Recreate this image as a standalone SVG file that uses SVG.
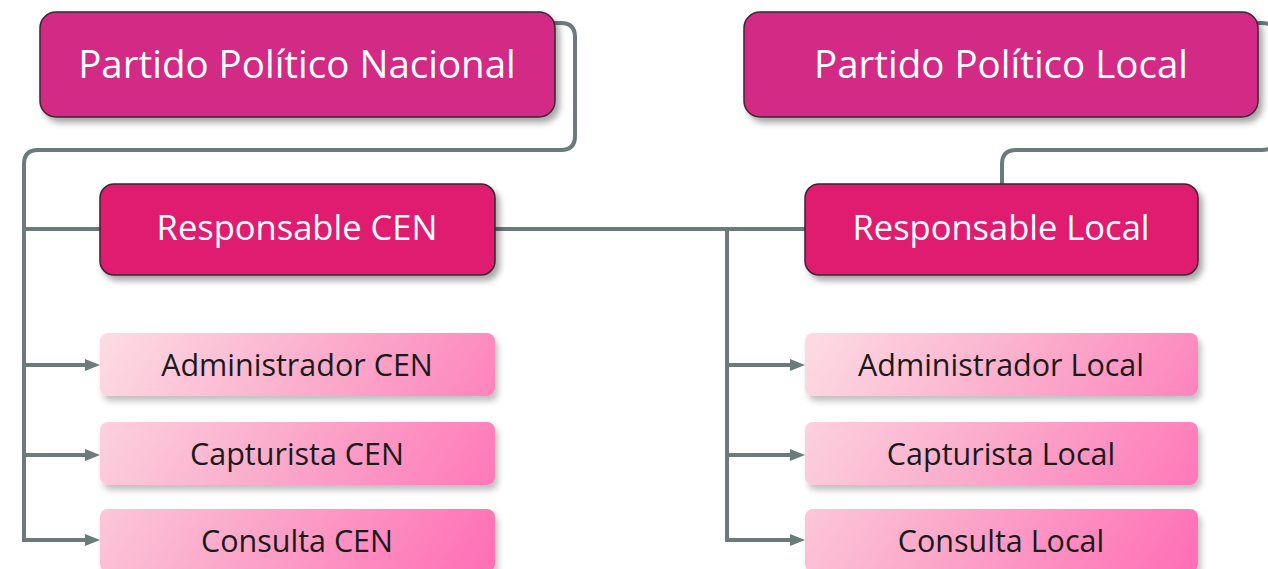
<svg xmlns="http://www.w3.org/2000/svg" width="1268" height="569" viewBox="0 0 1268 569">
<style>
.top{fill:#d22a85;stroke:#3a2530;stroke-width:1.5}
.resp{fill:#e01a70;stroke:#3a2530;stroke-width:1.5}
.ttxt{font-family:"Open Sans","Liberation Sans",sans-serif;fill:#ffffff;text-anchor:middle}
.ltxt{font-family:"Open Sans","Liberation Sans",sans-serif;fill:#1a1a1a;text-anchor:middle;font-size:30.5px}
.conn{fill:none;stroke:#6b7a7b;stroke-width:4}
</style>
<defs>
<filter id="sh" x="-10%" y="-20%" width="125%" height="150%">
<feDropShadow dx="4" dy="5" stdDeviation="3" flood-color="#000" flood-opacity="0.35"/>
</filter>
<filter id="sh2" x="-10%" y="-20%" width="125%" height="150%">
<feDropShadow dx="3" dy="5" stdDeviation="3" flood-color="#000" flood-opacity="0.25"/>
</filter>
<linearGradient id="gL" gradientUnits="userSpaceOnUse" x1="100" y1="333" x2="495" y2="572">
<stop offset="0" stop-color="#fddce4"/>
<stop offset="0.45" stop-color="#fbaccb"/>
<stop offset="1" stop-color="#ff6db5"/>
</linearGradient>
<linearGradient id="gR" gradientUnits="userSpaceOnUse" x1="805" y1="333" x2="1198" y2="572">
<stop offset="0" stop-color="#fddce4"/>
<stop offset="0.45" stop-color="#fbaccb"/>
<stop offset="1" stop-color="#ff6db5"/>
</linearGradient>
<marker id="ah" markerUnits="userSpaceOnUse" markerWidth="16" markerHeight="12" refX="0" refY="6" orient="auto">
<path d="M0,0 L15,6 L0,12 Z" fill="#6b7a7b"/>
</marker>
</defs>
<rect width="1268" height="569" fill="#ffffff"/>
<g id="connectors">
<path class="conn" d="M540,23 H561 Q575,23 575,37 V136 Q575,150 561,150 H38 Q24,150 24,164 V540 H85" marker-end="url(#ah)"/>
<path class="conn" d="M24,229 H110"/>
<path class="conn" d="M24,365 H85" marker-end="url(#ah)"/>
<path class="conn" d="M24,455 H85" marker-end="url(#ah)"/>
<path class="conn" d="M485,229 H815"/>
<path class="conn" d="M727,229 V540 H790" marker-end="url(#ah)"/>
<path class="conn" d="M727,365 H790" marker-end="url(#ah)"/>
<path class="conn" d="M727,455 H790" marker-end="url(#ah)"/>
<path class="conn" d="M1240,23 H1262 Q1276,23 1276,37 V136 Q1276,150 1262,150 H1016 Q1002,150 1002,164 V195"/>
</g>
<g id="n-ppn">
<rect class="top" x="40" y="12" width="515" height="105" rx="16" filter="url(#sh)"/>
<text class="ttxt" x="297" y="78" font-size="38.5">Partido Político Nacional</text>
</g>
<g id="n-ppl">
<rect class="top" x="744" y="12" width="514" height="105" rx="16" filter="url(#sh)"/>
<text class="ttxt" x="1001" y="78" font-size="38.5">Partido Político Local</text>
</g>
<g id="n-rcen">
<rect class="resp" x="100" y="184" width="395" height="91" rx="14" filter="url(#sh)"/>
<text class="ttxt" x="297" y="240" font-size="34.5">Responsable CEN</text>
</g>
<g id="n-rloc">
<rect class="resp" x="805" y="184" width="393" height="91" rx="14" filter="url(#sh)"/>
<text class="ttxt" x="1001" y="240" font-size="34.5">Responsable Local</text>
</g>
<g id="n-acen">
<rect x="100" y="333" width="395" height="63" rx="8" fill="url(#gL)" filter="url(#sh2)"/>
<text class="ltxt" x="297" y="376">Administrador CEN</text>
</g>
<g id="n-ccen">
<rect x="100" y="422" width="395" height="63" rx="8" fill="url(#gL)" filter="url(#sh2)"/>
<text class="ltxt" x="297" y="465">Capturista CEN</text>
</g>
<g id="n-qcen">
<rect x="100" y="509" width="395" height="63" rx="8" fill="url(#gL)" filter="url(#sh2)"/>
<text class="ltxt" x="297" y="552">Consulta CEN</text>
</g>
<g id="n-aloc">
<rect x="805" y="333" width="393" height="63" rx="8" fill="url(#gR)" filter="url(#sh2)"/>
<text class="ltxt" x="1001" y="376">Administrador Local</text>
</g>
<g id="n-cloc">
<rect x="805" y="422" width="393" height="63" rx="8" fill="url(#gR)" filter="url(#sh2)"/>
<text class="ltxt" x="1001" y="465">Capturista Local</text>
</g>
<g id="n-qloc">
<rect x="805" y="509" width="393" height="63" rx="8" fill="url(#gR)" filter="url(#sh2)"/>
<text class="ltxt" x="1001" y="552">Consulta Local</text>
</g>
</svg>
